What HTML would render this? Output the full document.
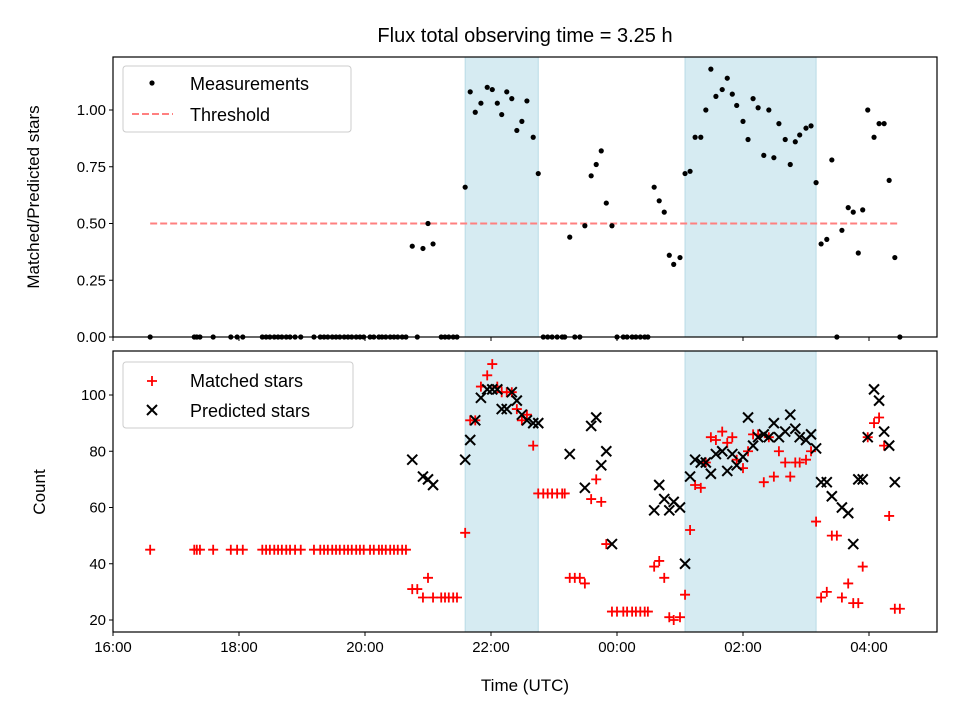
<!DOCTYPE html>
<html><head><meta charset="utf-8"><style>
body{margin:0;background:#fff}
svg text{font-family:"Liberation Sans","DejaVu Sans",sans-serif;fill:#000}
</style></head><body>
<svg id="chart" width="960" height="720" xmlns="http://www.w3.org/2000/svg">
<text x="525" y="42" font-size="20" text-anchor="middle">Flux total observing time = 3.25 h</text>
<g id="gtop"></g><g id="gbot"></g>
</svg>
<script>
const times=[0.59,1.29,1.33,1.38,1.59,1.87,1.97,2.06,2.37,2.43,2.49,2.56,2.62,2.68,2.75,2.81,2.89,2.98,3.19,3.29,3.35,3.41,3.48,3.54,3.60,3.67,3.73,3.79,3.86,3.92,3.98,4.08,4.14,4.22,4.27,4.33,4.40,4.46,4.52,4.59,4.65,
4.75,4.83,4.92,5.00,5.08,5.21,5.27,5.33,5.40,5.46,5.59,5.67,5.75,5.84,5.94,6.02,6.10,6.17,6.25,6.33,6.41,6.49,6.57,6.67,6.75,
6.83,6.90,6.97,7.05,7.13,7.17,7.25,7.33,7.41,7.49,7.59,7.67,7.75,7.83,7.92,8.00,8.10,8.16,8.24,8.30,8.37,8.44,8.49,
8.59,8.67,8.75,8.83,8.90,9.00,9.08,9.16,9.24,9.33,9.41,9.49,9.57,9.67,9.75,9.83,9.90,10.00,10.08,10.16,10.24,10.33,10.41,10.49,10.57,10.67,10.75,10.83,10.90,11.00,11.08,11.16,
11.24,11.33,11.41,11.49,11.57,11.67,11.75,11.83,11.90,11.98,12.08,12.16,12.24,12.32,12.41,12.49];
const ratios=[0,0,0,0,0,0,0,0,0,0,0,0,0,0,0,0,0,0,0,0,0,0,0,0,0,0,0,0,0,0,0,0,0,0,0,0,0,0,0,0,0,
0.40,0,0.39,0.50,0.41,0,0,0,0,0,0.66,1.08,0.99,1.03,1.10,1.09,1.03,0.98,1.08,1.05,0.91,0.95,1.04,0.88,0.72,
0,0,0,0,0,0,0.44,0,0,0.49,0.71,0.76,0.82,0.59,0.49,0,0,0,0,0,0,0,0,
0.66,0.60,0.55,0.36,0.32,0.35,0.72,0.73,0.88,0.88,1.00,1.18,1.06,1.09,1.14,1.07,1.02,0.95,0.87,1.05,1.01,0.80,1.00,0.79,0.94,0.87,0.76,0.86,0.89,0.92,0.93,0.68,
0.41,0.43,0.78,0,0.47,0.57,0.55,0.37,0.56,1.00,0.88,0.94,0.94,0.69,0.35,0];
const matched=[45,45,45,45,45,45,45,45,45,45,45,45,45,45,45,45,45,45,45,45,45,45,45,45,45,45,45,45,45,45,45,45,45,45,45,45,45,45,45,45,45,
31,31,28,35,28,28,28,28,28,28,51,91,91,103,107,111,103,101,101,101,95,91,93,82,65,
65,65,65,65,65,65,35,35,35,33,63,70,62,47,23,23,23,23,23,23,23,23,23,
39,41,35,21,20,21,29,52,68,67,76,85,84,87,83,85,77,74,80,86,86,69,85,71,80,76,71,76,76,77,80,55,
28,30,50,50,28,33,26,26,39,85,90,92,82,57,24,24];
const predicted=[null,null,null,null,null,null,null,null,null,null,null,null,null,null,null,null,null,null,null,null,null,null,null,null,null,null,null,null,null,null,null,null,null,null,null,null,null,null,null,null,null,
77,null,71,70,68,null,null,null,null,null,77,84,91,99,102,102,102,95,95,101,98,93,91,90,90,
null,null,null,null,null,null,79,null,null,67,89,92,75,80,47,null,null,null,null,null,null,null,null,
59,68,63,59,62,60,40,71,77,76,76,72,79,80,73,79,75,78,92,82,85,86,85,90,85,87,93,88,85,84,86,81,
69,69,64,null,60,58,47,70,70,85,102,98,87,82,69,null];
const spans=[[5.59,6.75],[9.08,11.16]];
const threshold=0.5;
const xTicks=[0,2,4,6,8,10,12];
const xTickLabels=["16:00","18:00","20:00","22:00","00:00","02:00","04:00"];
const topTicks=[0,0.25,0.5,0.75,1.0];
const botTicks=[20,40,60,80,100];

const NS="http://www.w3.org/2000/svg";
const L=113,R=937;
const X=h=>L+h*63;
const topT=57,topB=337,botT=351,botB=632;
const YT=v=>337-v*227;
const YB=v=>620-(v-20)*2.8125;
function mk(p,tag,a,txt){const e=document.createElementNS(NS,tag);for(const k in a)e.setAttribute(k,a[k]);if(txt!=null)e.textContent=txt;p.appendChild(e);return e;}
const gTop=document.getElementById('gtop'),gBot=document.getElementById('gbot');

function axesFrame(g,yT,yB,name){
  spans.forEach((s,i)=>{
    const r=mk(g,'rect',{x:X(s[0]),y:yT,width:X(s[1])-X(s[0]),height:yB-yT,fill:'#d6ebf2',stroke:'#b8dbe6','stroke-width':1});
    
    
  });
}
axesFrame(gTop,topT,topB,'top');
axesFrame(gBot,botT,botB,'bottom');

const th=mk(gTop,'line',{x1:X(times[0]),x2:X(times[times.length-1]),y1:YT(threshold),y2:YT(threshold),stroke:'#ff8080','stroke-width':2,'stroke-dasharray':'7,3'});



times.forEach((t,i)=>{
  const c=mk(gTop,'circle',{cx:X(t),cy:YT(ratios[i]),r:2.6,fill:'#000'});
  
  
});
times.forEach((t,i)=>{
  const x=X(t),y=YB(matched[i]);
  const p=mk(gBot,'path',{d:`M${x-5},${y}H${x+5}M${x},${y-5}V${y+5}`,stroke:'#f00','stroke-width':1.8,fill:'none'});
  
  
});
times.forEach((t,i)=>{
  if(predicted[i]==null)return;
  const x=X(t),y=YB(predicted[i]);
  const p=mk(gBot,'path',{d:`M${x-5},${y-5}L${x+5},${y+5}M${x-5},${y+5}L${x+5},${y-5}`,stroke:'#000','stroke-width':2,fill:'none'});
  
  
});

function frame(g,yT,yB,name){
  const r=mk(g,'rect',{x:L,y:yT,width:R-L,height:yB-yT,fill:'none',stroke:'#000','stroke-width':1.2});
  
  
}
frame(gTop,topT,topB,'top');frame(gBot,botT,botB,'bottom');

xTicks.forEach((h,i)=>{
  mk(gTop,'line',{x1:X(h),x2:X(h),y1:topB,y2:topB+4,stroke:'#000'});
  mk(gBot,'line',{x1:X(h),x2:X(h),y1:botB,y2:botB+4,stroke:'#000'});
  const t=mk(gBot,'text',{x:X(h),y:botB+20,'font-size':15,'text-anchor':'middle'},xTickLabels[i]);
  
  
});
topTicks.forEach(v=>{
  mk(gTop,'line',{x1:L-4,x2:L,y1:YT(v),y2:YT(v),stroke:'#000'});
  const t=mk(gTop,'text',{x:L-7,y:YT(v)+5,'font-size':15,'text-anchor':'end'},v.toFixed(2));
  
  
});
botTicks.forEach(v=>{
  mk(gBot,'line',{x1:L-4,x2:L,y1:YB(v),y2:YB(v),stroke:'#000'});
  const t=mk(gBot,'text',{x:L-7,y:YB(v)+5,'font-size':15,'text-anchor':'end'},String(v));
  
  
});
</script>
<svg style="position:absolute;left:0;top:0" width="960" height="720" xmlns="http://www.w3.org/2000/svg">
<text transform="translate(39,197) rotate(-90)" font-size="17" text-anchor="middle">Matched/Predicted stars</text>
<text transform="translate(45,492) rotate(-90)" font-size="17" text-anchor="middle">Count</text>
<text x="525" y="691" font-size="17" text-anchor="middle">Time (UTC)</text>
<g>
<rect x="123" y="66" width="228" height="66" rx="3" fill="#fff" fill-opacity="0.85" stroke="#ccc"/>
<circle cx="152" cy="83" r="2.6" fill="#000"/>
<text x="190" y="90" font-size="18">Measurements</text>
<line x1="132" x2="173" y1="114" y2="114" stroke="#ff8080" stroke-width="2" stroke-dasharray="7,3"/>
<text x="190" y="121" font-size="18">Threshold</text>
</g>
<g>
<rect x="123" y="362" width="230" height="66" rx="3" fill="#fff" fill-opacity="0.85" stroke="#ccc"/>
<path d="M147,381H157M152,376V386" stroke="#f00" stroke-width="1.8"/>
<text x="190" y="387" font-size="18">Matched stars</text>
<path d="M147,405L157,415M147,415L157,405" stroke="#000" stroke-width="2"/>
<text x="190" y="417" font-size="18">Predicted stars</text>
</g>
</svg>
</body></html>
